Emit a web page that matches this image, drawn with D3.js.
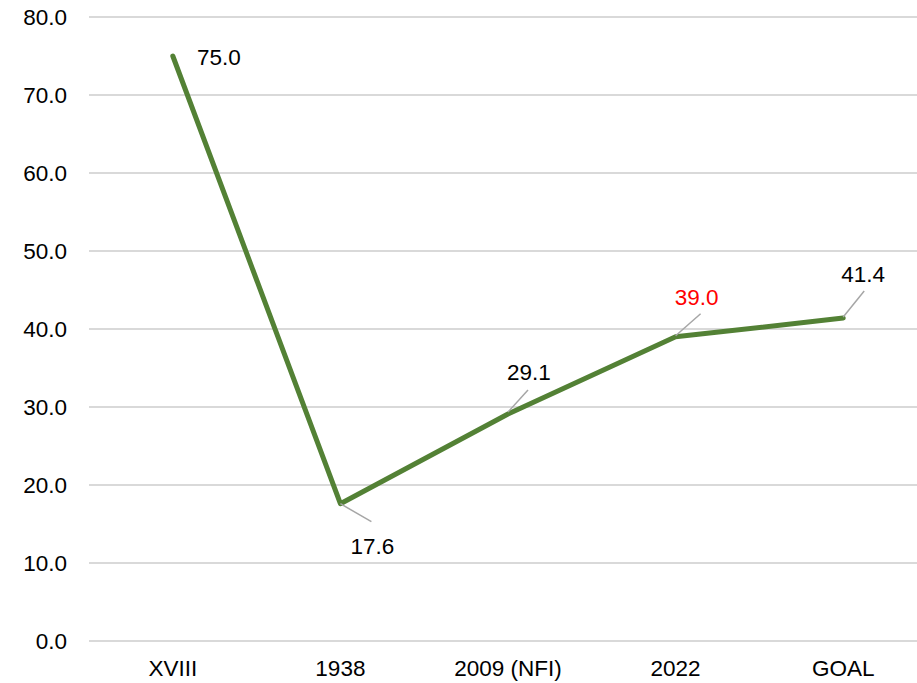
<!DOCTYPE html>
<html><head><meta charset="utf-8">
<script src="https://cdn.jsdelivr.net/npm/d3@7"></script>
<style>body{margin:0;background:#fff}svg{display:block;font-family:"Liberation Sans",Arial,sans-serif}</style>
</head><body><svg id="c" width="917" height="683"></svg>
<script>
const categories = ["XVIII","1938","2009 (NFI)","2022","GOAL"];
const values = [75.0,17.6,29.1,39.0,41.4];
const yTicks = [0,10,20,30,40,50,60,70,80];
const labelColors = ["#000","#000","#000","#ff0000","#000"];
// label offsets relative to point (dx, dy) and leader lines
const labelOffsets = [[46,1],[32,42],[21,-42],[21,-40],[20,-44]];
const leaders = [null,[[0,0],[31,18]],[[0,-2],[20,-24]],[[0,-1],[25,-23]],[[0,-1],[21,-27]]];

const FS = 22.5;
const svg = d3.select("#c");
const x = d3.scaleBand().domain(categories).range([89,927]);
const y = d3.scaleLinear().domain([0,80]).range([641,17]);

svg.append("g").selectAll("line").data(yTicks).join("line")
  .attr("x1",89).attr("x2",917).attr("y1",d=>y(d)).attr("y2",d=>y(d))
  .attr("stroke","#d9d9d9").attr("stroke-width",2);

svg.append("g").selectAll("text").data(yTicks).join("text")
  .attr("x",67).attr("y",d=>y(d)).attr("dy","0.35em").attr("text-anchor","end")
  .attr("font-size",FS).attr("fill","#000").text(d=>d.toFixed(1));

svg.append("g").selectAll("text").data(categories).join("text")
  .attr("x",d=>x(d)+x.bandwidth()/2).attr("y",668).attr("dy","0.35em").attr("text-anchor","middle")
  .attr("font-size",FS).attr("fill","#000").text(d=>d);

const cx = i => x(categories[i])+x.bandwidth()/2;
const line = d3.line().x((d,i)=>cx(i)).y(d=>y(d));
svg.append("path").datum(values).attr("d",line).attr("fill","none")
  .attr("stroke","#538135").attr("stroke-width",5).attr("stroke-linejoin","round").attr("stroke-linecap","round");

values.forEach((v,i)=>{
  const px=cx(i), py=y(v);
  if(leaders[i]){
    const l=leaders[i];
    svg.append("line").attr("x1",px+l[0][0]).attr("y1",py+l[0][1]).attr("x2",px+l[1][0]).attr("y2",py+l[1][1])
      .attr("stroke","#a6a6a6").attr("stroke-width",1.5);
  }
  svg.append("text").attr("x",px+labelOffsets[i][0]).attr("y",py+labelOffsets[i][1]).attr("dy","0.35em")
    .attr("text-anchor","middle").attr("font-size",FS).attr("fill",labelColors[i]).text(v.toFixed(1));
});
</script></body></html>
